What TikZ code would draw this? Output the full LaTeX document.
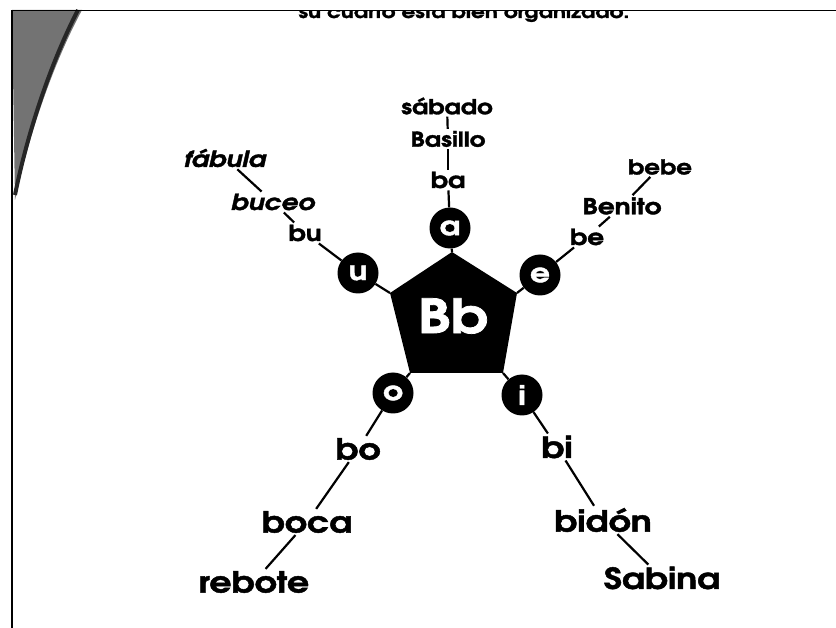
\documentclass[tikz,border=0pt]{standalone}
\usepackage{fontspec}
\setmainfont{texgyreadventor}[Extension=.otf, UprightFont=*-regular, BoldFont=*-bold, ItalicFont=*-italic, BoldItalicFont=*-bolditalic,
  BoldFeatures={FakeBold=1.6, FakeStretch=1.2}, BoldItalicFeatures={FakeBold=1.6, FakeStretch=1.2}]
\begin{document}
\begin{tikzpicture}[x=1pt,y=-1pt,
  wsm/.style={font=\bfseries\fontsize{20.5}{21}\selectfont, inner sep=2pt},
  wsi/.style={font=\bfseries\itshape\fontsize{22}{22}\selectfont, inner sep=2pt},
  wmd/.style={font=\bfseries\fontsize{22}{22}\selectfont, inner sep=2pt},
  wlg/.style={font=\bfseries\fontsize{29}{30}\selectfont, inner sep=2pt},
  vow/.style={circle, fill=black, minimum size=41pt, inner sep=0pt, text=white, font=\bfseries\fontsize{26}{26}\selectfont},
  ln/.style={line width=2.2pt}]
\useasboundingbox (0,0) rectangle (836,628);
\fill[white] (0,0) rectangle (836,628);
% scan frame and texture
\fill[black!55] (12,10) -- (82,10) .. controls (55,60) and (30,130) .. (15,200) -- cycle;
\draw[black!85, line width=4pt] (78,10) .. controls (52,60) and (28,130) .. (15,195);
\draw[line width=1.5pt] (12,10.5) -- (836,10.5);
\draw[line width=2pt] (11.5,10) -- (11.5,628);
\begin{scope}
\clip (0,11) rectangle (836,40);
\node[font=\bfseries\fontsize{18}{18}\selectfont, anchor=base, inner sep=0pt] (head) at (464,18) {su cuarto está bien organizado.};
\end{scope}
% pentagon
\coordinate (pt) at (452,252);
\coordinate (pur) at (517,293);
\coordinate (plr) at (503,373);
\coordinate (pll) at (410,373);
\coordinate (pul) at (390,293);
\fill (pt) -- (pur) -- (plr) -- (pll) -- (pul) -- cycle;
\node[text=white, font=\bfseries\fontsize{47}{47}\selectfont, inner sep=0pt] (Bb) at (453,316) {Bb};
% vowel circles
\node[vow] (a) at (450,228) {a};
\node[vow] (u) at (358,273) {u};
\node[vow] (e) at (540,275) {e};
\node[vow] (o) at (393,393) {o};
\node[vow] (i) at (522,395) {i};
\draw[ln] (pt) -- (a);
\draw[ln] (pul) -- (u);
\draw[ln] (pur) -- (e);
\draw[ln] (pll) -- (o);
\draw[ln] (plr) -- (i);
% words
\node[wsm] (sabado) at (447,106) {sábado};
\node[wsm] (Basillo) at (448,139) {Basillo};
\node[wmd] (ba) at (448,180) {ba};
\node[wsi] (fabula) at (225,158) {fábula};
\node[wsi] (buceo) at (273,202) {buceo};
\node[wmd] (bu) at (305,233) {bu};
\node[wsm] (bebe) at (660,167) {bebe};
\node[wsm, font=\bfseries\fontsize{22}{22}\selectfont] (Benito) at (622,206) {Benito};
\node[wmd] (be) at (587,237) {be};
\node[wlg] (bo) at (358,449) {bo};
\node[wlg] (boca) at (307,522) {boca};
\node[wlg] (rebote) at (254,582) {rebote};
\node[wlg] (bi) at (557,447) {bi};
\node[wlg] (bidon) at (603,520) {bidón};
\node[wlg] (Sabina) at (662,578) {Sabina};
% connectors
\draw[ln] (sabado) -- (Basillo);
\draw[ln] (Basillo) -- (ba);
\draw[ln] (ba) -- (a);
\draw[ln] (fabula) -- (buceo);
\draw[ln] (buceo) -- (bu);
\draw[ln] (bu) -- (u);
\draw[ln] (bebe) -- (Benito);
\draw[ln] (Benito) -- (be);
\draw[ln] (be) -- (e);
\draw[ln] (o) -- (bo);
\draw[ln] (bo) -- (boca);
\draw[ln] (boca) -- (rebote);
\draw[ln] (i) -- (bi);
\draw[ln] (bi) -- (bidon);
\draw[ln] (bidon) -- (Sabina);
\end{tikzpicture}
\end{document}
